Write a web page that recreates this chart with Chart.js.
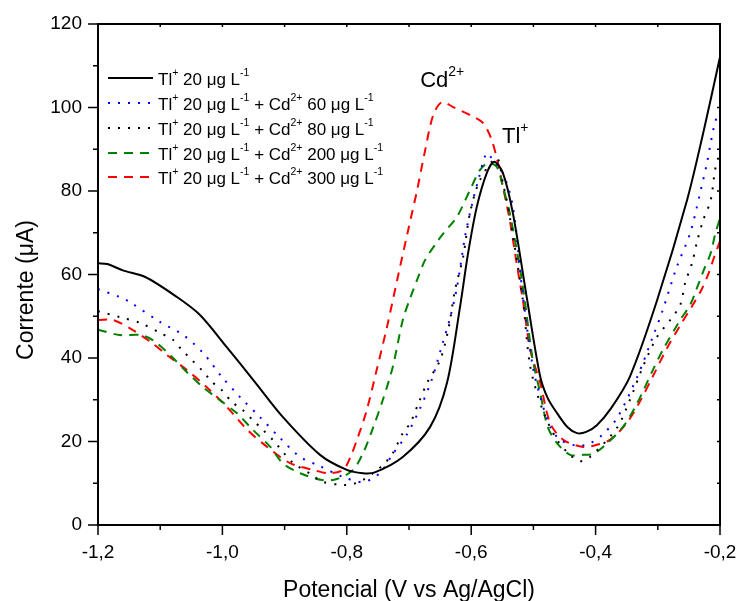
<!DOCTYPE html>
<html><head><meta charset="utf-8">
<script src="https://cdn.jsdelivr.net/npm/chart.js@4.4.1/dist/chart.umd.min.js"></script>
<style>html,body{margin:0;padding:0;background:#fff}</style>
</head><body>
<canvas id="c" width="739" height="601"></canvas>
<script>
// ---- data ----
const xTickValues = [-1.2, -1.0, -0.8, -0.6, -0.4, -0.2];
const yTickValues = [0, 20, 40, 60, 80, 100, 120];
const xTitle = 'Potencial (V vs Ag/AgCl)';
const yTitle = 'Corrente (\u03bcA)';

const seriesLabels = [
  'Tl^{+} 20 \u03bcg L^{-1}',
  'Tl^{+} 20 \u03bcg L^{-1} + Cd^{2+} 60 \u03bcg L^{-1}',
  'Tl^{+} 20 \u03bcg L^{-1} + Cd^{2+} 80 \u03bcg L^{-1}',
  'Tl^{+} 20 \u03bcg L^{-1} + Cd^{2+} 200 \u03bcg L^{-1}',
  'Tl^{+} 20 \u03bcg L^{-1} + Cd^{2+} 300 \u03bcg L^{-1}'
];

const tlX = [-1.2,-1.185,-1.16,-1.124,-1.073,-1.036,-0.993,-0.948,-0.903,-0.843,-0.8,-0.774,-0.755,-0.71,-0.666,-0.639,-0.618,-0.605,-0.591,-0.575,-0.563,-0.549,-0.533,-0.51,-0.489,-0.477,-0.462,-0.445,-0.43,-0.415,-0.398,-0.375,-0.345,-0.301,-0.253,-0.227,-0.2];
const tlY = [62.7,62.5,61.0,59.4,54.6,50.3,42.6,34.3,25.9,16.8,13.2,12.4,12.6,16.3,23.5,34.0,52.2,65.1,76.2,84.3,87.0,84.3,74.7,53.9,35.5,30.4,26.8,23.4,22.0,22.3,23.9,28.0,35.5,53.9,77.8,93.9,112.1];

const cd60X = [-1.2,-1.165,-1.149,-1.1,-1.063,-1.031,-1.001,-0.972,-0.94,-0.907,-0.875,-0.843,-0.806,-0.774,-0.747,-0.727,-0.703,-0.682,-0.663,-0.647,-0.634,-0.623,-0.61,-0.599,-0.587,-0.575,-0.565,-0.549,-0.533,-0.517,-0.501,-0.489,-0.473,-0.457,-0.43,-0.41,-0.39,-0.366,-0.333,-0.308,-0.292,-0.27,-0.248,-0.232,-0.221,-0.208,-0.2];
const cd60Y = [56.5,54.6,53.4,48.6,45.5,41.2,35.5,30.7,25.9,20.8,16.3,14.1,11.5,10.3,12.4,16.8,21.8,28.0,35.0,43.0,49.6,56.8,69.0,76.6,83.5,89.1,87.4,84.3,76.2,55.0,37.9,30.7,23.5,20.4,19.0,19.5,21.5,25.5,35.5,45.1,51.5,61.6,69.9,79.5,86.7,96.5,99.0];

const cd80X = [-1.2,-1.165,-1.132,-1.1,-1.079,-1.065,-1.049,-1.033,-1.017,-1.001,-0.985,-0.967,-0.951,-0.935,-0.919,-0.888,-0.856,-0.838,-0.806,-0.79,-0.774,-0.758,-0.739,-0.726,-0.71,-0.698,-0.686,-0.671,-0.65,-0.637,-0.626,-0.613,-0.602,-0.586,-0.559,-0.549,-0.538,-0.517,-0.505,-0.485,-0.462,-0.441,-0.425,-0.409,-0.366,-0.345,-0.324,-0.301,-0.28,-0.264,-0.256,-0.245,-0.237,-0.227,-0.215,-0.208,-0.203,-0.2];
const cd80Y = [51.2,49.8,48.4,46.0,44.3,41.9,39.5,37.1,34.3,32.3,29.5,27.5,25.1,22.8,20.4,15.1,12.0,10.3,9.6,9.8,10.8,12.4,14.8,17.2,22.0,24.4,28.7,34.0,39.5,46.7,56.3,64.2,74.7,82.6,87.9,81.9,73.8,53.9,37.9,27.5,20.4,16.8,15.3,16.3,23.2,29.9,37.9,45.1,49.1,52.7,58.0,62.7,67.8,73.0,77.8,85.0,87.9,89.5];

const cd200X = [-1.2,-1.165,-1.132,-1.112,-1.084,-1.057,-1.031,-1.004,-0.977,-0.951,-0.923,-0.903,-0.875,-0.84,-0.816,-0.79,-0.773,-0.758,-0.742,-0.726,-0.71,-0.698,-0.687,-0.674,-0.655,-0.643,-0.623,-0.602,-0.586,-0.573,-0.559,-0.549,-0.538,-0.522,-0.514,-0.501,-0.489,-0.477,-0.462,-0.441,-0.42,-0.405,-0.388,-0.356,-0.333,-0.308,-0.292,-0.264,-0.248,-0.237,-0.226,-0.215,-0.208,-0.2];
const cd200Y = [46.8,45.5,45.5,44.3,40.7,36.6,33.0,29.9,26.8,22.8,18.7,14.8,12.4,10.8,11.0,13.2,17.5,23.2,30.0,37.9,49.1,54.4,58.7,63.5,67.8,70.2,73.8,80.2,85.0,86.7,85.8,81.0,74.7,61.8,53.9,39.5,31.6,23.5,19.6,16.8,16.8,17.0,18.7,23.5,29.2,37.1,41.9,49.1,52.7,56.8,61.1,65.1,69.5,73.5];

const cd300X = [-1.2,-1.176,-1.144,-1.116,-1.089,-1.057,-1.025,-0.993,-0.96,-0.928,-0.891,-0.854,-0.83,-0.806,-0.795,-0.782,-0.768,-0.752,-0.735,-0.719,-0.702,-0.687,-0.674,-0.661,-0.647,-0.629,-0.602,-0.581,-0.567,-0.557,-0.549,-0.538,-0.526,-0.517,-0.505,-0.489,-0.473,-0.452,-0.42,-0.398,-0.377,-0.35,-0.329,-0.308,-0.285,-0.264,-0.245,-0.23,-0.218,-0.21,-0.2];
const cd300Y = [49.1,49.1,46.7,43.9,40.7,37.1,33.0,28.3,22.8,18.7,14.8,13.2,12.4,13.2,16.0,21.1,27.5,37.1,47.7,58.7,70.2,80.2,89.8,98.2,101.3,100.1,98.2,96.3,92.2,86.7,81.0,73.0,61.8,53.9,41.9,34.0,24.4,20.4,18.7,19.2,20.4,24.4,29.5,35.6,42.4,47.8,52.4,56.3,60.4,63.9,68.0];

const annotations = [
  { text: 'Cd^{2+}', x: -0.682, y: 104.9 },
  { text: 'Tl^{+}',  x: -0.5505, y: 91.5 }
];

// ---- styles ----
const FONT = '"Liberation Sans", Arial, Helvetica, sans-serif';
const styles = [
  { color: '#000000', dash: [] },
  { color: '#0000ff', dash: [2, 8] },
  { color: '#000000', dash: [2, 8] },
  { color: '#008000', dash: [9, 7] },
  { color: '#ff0000', dash: [9, 7] }
];
const xs = [tlX, cd60X, cd80X, cd200X, cd300X];
const ys = [tlY, cd60Y, cd80Y, cd200Y, cd300Y];

const datasets = xs.map((xa, k) => ({
  label: seriesLabels[k],
  data: xa.map((x, i) => ({ x: x, y: ys[k][i] })),
  borderColor: styles[k].color,
  borderDash: styles[k].dash,
  borderWidth: 2,
  pointRadius: 0,
  fill: false,
  tension: 0.3
}));

function drawRich(ctx, str, x, y, size, supSize, rise) {
  const parts = str.split(/(\^\{[^}]*\})/);
  for (const p of parts) {
    if (!p) continue;
    const sup = p.startsWith('^{');
    const t = sup ? p.slice(2, -1) : p;
    ctx.font = (sup ? supSize : size) + 'px ' + FONT;
    ctx.fillText(t, x, sup ? y - rise : y);
    x += ctx.measureText(t).width;
  }
}

const decor = {
  id: 'decor',
  afterDraw(chart) {
    const ctx = chart.ctx, a = chart.chartArea;
    const sx = chart.scales.x, sy = chart.scales.y;
    ctx.save();
    ctx.strokeStyle = '#000';
    ctx.fillStyle = '#000';
    // frame
    ctx.lineWidth = 2;
    ctx.strokeRect(a.left, a.top, a.right - a.left, a.bottom - a.top);
    // ticks
    ctx.lineWidth = 1.5;
    ctx.beginPath();
    for (let i = 0; i <= 10; i++) {
      const v = xTickValues[0] + i * 0.1;
      const px = sx.getPixelForValue(v);
      const len = i % 2 === 0 ? 10 : 5;
      ctx.moveTo(px, a.bottom); ctx.lineTo(px, a.bottom + len);
      ctx.moveTo(px, a.top); ctx.lineTo(px, a.top + 3);
    }
    for (let i = 0; i <= 12; i++) {
      const v = i * 10;
      const py = sy.getPixelForValue(v);
      const len = i % 2 === 0 ? 10 : 5;
      ctx.moveTo(a.left, py); ctx.lineTo(a.left - len, py);
      ctx.moveTo(a.right, py); ctx.lineTo(a.right - 3, py);
    }
    ctx.stroke();
    // axis titles
    ctx.font = '23px ' + FONT;
    ctx.textAlign = 'center';
    ctx.textBaseline = 'alphabetic';
    ctx.fillText(xTitle, (a.left + a.right) / 2, 597);
    ctx.save();
    ctx.translate(33, 290);
    ctx.rotate(-Math.PI / 2);
    ctx.fillText(yTitle, 0, 0);
    ctx.restore();
    // legend
    ctx.textAlign = 'left';
    const rows = [78, 103, 128, 153, 177];
    chart.data.datasets.forEach((ds, k) => {
      const y = rows[k];
      ctx.save();
      ctx.strokeStyle = ds.borderColor;
      ctx.lineWidth = 2;
      ctx.setLineDash(ds.borderDash);
      ctx.beginPath();
      ctx.moveTo(108, y); ctx.lineTo(153, y);
      ctx.stroke();
      ctx.restore();
      drawRich(ctx, ds.label, 158, y + 6.5, 17, 10.5, 8.5);
    });
    // annotations
    annotations.forEach(an => {
      drawRich(ctx, an.text, sx.getPixelForValue(an.x), sy.getPixelForValue(an.y), 22, 14, 11);
    });
    ctx.restore();
  }
};

new Chart(document.getElementById('c'), {
  type: 'line',
  data: { datasets: datasets },
  options: {
    responsive: false,
    animation: false,
    layout: { padding: { top: 24, right: 19, left: 0, bottom: 0 } },
    plugins: { legend: { display: false }, tooltip: { enabled: false } },
    scales: {
      x: {
        type: 'linear', min: xTickValues[0], max: xTickValues[xTickValues.length - 1],
        afterFit(s) { s.height = 76; s.paddingLeft = 0; s.paddingRight = 0; },
        afterBuildTicks(s) { s.ticks = xTickValues.map(v => ({ value: v })); },
        ticks: {
          font: { family: FONT, size: 19 }, color: '#000', padding: 16,
          maxRotation: 0, autoSkip: false,
          callback: v => Number(v).toFixed(1).replace('.', ',')
        },
        grid: { display: false, drawTicks: false },
        border: { display: false }
      },
      y: {
        min: yTickValues[0], max: yTickValues[yTickValues.length - 1],
        afterFit(s) { s.width = 98; s.paddingTop = 0; s.paddingBottom = 0; },
        afterBuildTicks(s) { s.ticks = yTickValues.map(v => ({ value: v })); },
        ticks: { font: { family: FONT, size: 19 }, color: '#000', padding: 16 },
        grid: { display: false, drawTicks: false },
        border: { display: false }
      }
    }
  },
  plugins: [decor]
});
</script>
</body></html>
